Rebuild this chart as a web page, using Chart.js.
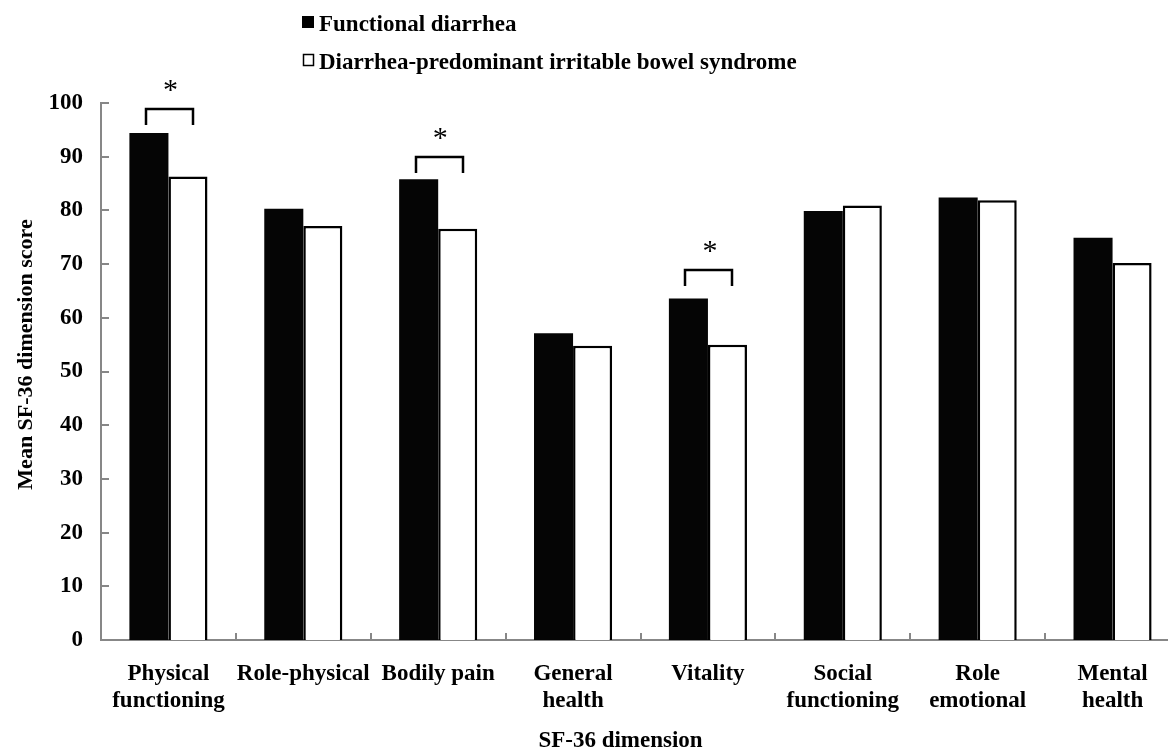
<!DOCTYPE html>
<html>
<head>
<meta charset="utf-8">
<title>SF-36 dimension scores</title>
<script src="https://cdn.jsdelivr.net/npm/chart.js@4.4.1/dist/chart.umd.min.js"></script>
<style>
  html, body { margin: 0; padding: 0; background: #ffffff; overflow: hidden; }
  #wrap { position: relative; width: 1200px; height: 750px; }
  canvas { display: block; }
</style>
</head>
<body>
<div id="wrap"><canvas id="chart" width="1200" height="750"></canvas></div>
<script>
// SF-36 dimensions (category axis)
const categories = [
  ['Physical', 'functioning'],
  'Role-physical',
  'Bodily pain',
  ['General', 'health'],
  'Vitality',
  ['Social', 'functioning'],
  ['Role', 'emotional'],
  ['Mental', 'health']
];

// Mean scores per group
const functionalDiarrhea = [94.4, 80.3, 85.8, 57.1, 63.6, 79.9, 82.4, 74.9];
const ibsD               = [86.3, 77.1, 76.6, 54.8, 55.0, 80.9, 81.9, 70.2];

const seriesNames = ['Functional diarrhea', 'Diarrhea-predominant irritable bowel syndrome'];

// Value axis
const yTicks = [0, 10, 20, 30, 40, 50, 60, 70, 80, 90, 100];

// Significant differences: category index and the level of the bracket
const significantIdx = [0, 2, 4];
const bracketLevels  = [98.9, 90.0, 68.9];

const axisGray = '#878787';
const serif = '"Liberation Serif", "Times New Roman", serif';

const decorations = {
  id: 'decorations',
  afterDraw(chart) {
    const { ctx, chartArea: a, scales: { x, y } } = chart;
    ctx.save();

    // inward tick marks on the value axis
    ctx.strokeStyle = axisGray;
    ctx.lineWidth = 2;
    yTicks.forEach(v => {
      const py = Math.round(y.getPixelForValue(v));
      ctx.beginPath();
      ctx.moveTo(a.left, py);
      ctx.lineTo(a.left + 8, py);
      ctx.stroke();
    });
    // inward tick marks between categories
    const step = (a.right - a.left) / categories.length;
    for (let i = 1; i <= categories.length; i++) {
      const px = Math.round(a.left + i * step);
      ctx.beginPath();
      ctx.moveTo(px, a.bottom);
      ctx.lineTo(px, a.bottom - 7);
      ctx.stroke();
    }

    // significance brackets with asterisks
    const m0 = chart.getDatasetMeta(0), m1 = chart.getDatasetMeta(1);
    ctx.strokeStyle = '#000';
    ctx.lineWidth = 2.5;
    significantIdx.forEach((idx, k) => {
      const b0 = m0.data[idx], b1 = m1.data[idx];
      const x0 = Math.round(b0.x - 3), x1 = Math.round(b1.x + 5);
      const top = Math.round(y.getPixelForValue(bracketLevels[k]));
      const foot = top + 16;
      ctx.beginPath();
      ctx.moveTo(x0, foot);
      ctx.lineTo(x0, top);
      ctx.lineTo(x1, top);
      ctx.lineTo(x1, foot);
      ctx.stroke();

      ctx.fillStyle = '#000';
      ctx.font = '30px ' + serif;
      ctx.textAlign = 'center';
      ctx.textBaseline = 'alphabetic';
      const m = ctx.measureText('*');
      const glyphMid = (m.actualBoundingBoxAscent - m.actualBoundingBoxDescent) / 2;
      ctx.fillText('*', (b0.x + b1.x) / 2 + 2, top - 24 + glyphMid);
    });

    // legend
    ctx.font = 'bold 23px ' + serif;
    ctx.textAlign = 'left';
    ctx.textBaseline = 'alphabetic';
    ctx.fillStyle = '#000';
    ctx.fillRect(302, 16, 12, 12);
    ctx.fillText(chart.data.datasets[0].label, 319, 31);
    ctx.lineWidth = 1.5;
    ctx.strokeStyle = '#000';
    ctx.strokeRect(303.5, 54.5, 10, 11);
    ctx.fillText(chart.data.datasets[1].label, 319, 69);

    // axis titles
    ctx.textAlign = 'center';
    ctx.fillText('SF-36 dimension', (a.left + a.right) / 2 - 20, 747);
    ctx.save();
    ctx.translate(32, (a.top + a.bottom) / 2 - 17);
    ctx.rotate(-Math.PI / 2);
    ctx.font = 'bold 22px ' + serif;
    ctx.fillText('Mean SF-36 dimension score', 0, 0);
    ctx.restore();

    ctx.restore();
  }
};

new Chart(document.getElementById('chart'), {
  type: 'bar',
  data: {
    labels: categories,
    datasets: [
      {
        label: seriesNames[0],
        data: functionalDiarrhea,
        backgroundColor: '#050505',
        borderWidth: 0
      },
      {
        label: seriesNames[1],
        data: ibsD,
        backgroundColor: '#ffffff',
        borderColor: '#000000',
        borderWidth: 2.5
      }
    ]
  },
  options: {
    responsive: false,
    devicePixelRatio: 1,
    animation: false,
    layout: { padding: { top: 103, right: 20, bottom: 0, left: 0 } },
    datasets: {
      bar: { categoryPercentage: 0.579, barPercentage: 1.0 }
    },
    plugins: {
      legend: { display: false },
      tooltip: { enabled: false },
      title: { display: false }
    },
    scales: {
      x: {
        grid: { display: false, drawTicks: false },
        border: { display: true, color: axisGray, width: 2 },
        ticks: {
          color: '#000',
          font: { family: serif, size: 23, weight: 'bold', lineHeight: 27 / 23 },
          padding: 21,
          maxRotation: 0,
          minRotation: 0,
          autoSkip: false
        },
        afterFit(scale) { scale.height = 110; }
      },
      y: {
        min: 0,
        max: 100,
        grid: { display: false, drawTicks: false },
        border: { display: true, color: axisGray, width: 2 },
        ticks: {
          stepSize: 10,
          color: '#000',
          font: { family: serif, size: 23, weight: 'bold' },
          padding: 18
        },
        afterFit(scale) { scale.width = 101; }
      }
    }
  },
  plugins: [decorations]
});
</script>
</body>
</html>
